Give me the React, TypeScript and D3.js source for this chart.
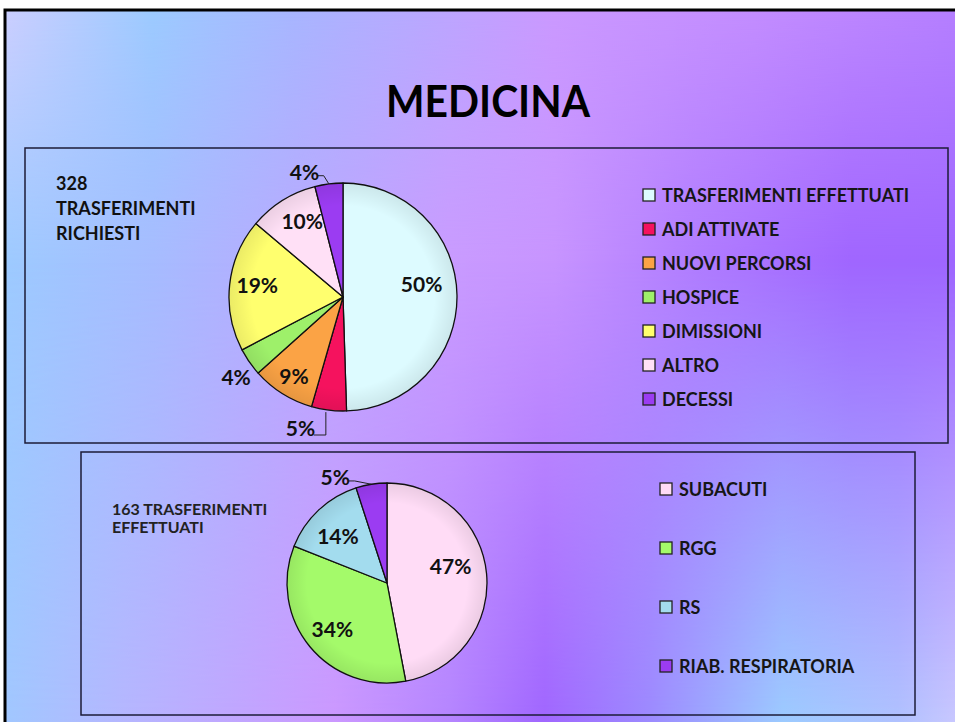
import React from 'react';
import * as d3 from 'd3';

const title = 'MEDICINA';

const topCategories = ['TRASFERIMENTI EFFETTUATI', 'ADI ATTIVATE', 'NUOVI PERCORSI', 'HOSPICE', 'DIMISSIONI', 'ALTRO', 'DECESSI'];
const topValues = [50, 5, 9, 4, 19, 10, 4];
const topColors = ['#ddfbff', '#f5125e', '#fba345', '#9ef06a', '#ffff6e', '#ffe0f6', '#9b3cf2'];
const topNote = ['328', 'TRASFERIMENTI', 'RICHIESTI'];

const bottomCategories = ['SUBACUTI', 'RGG', 'RS', 'RIAB. RESPIRATORIA'];
const bottomValues = [47, 34, 14, 5];
const bottomColors = ['#ffdcf6', '#a4fa6a', '#a3dcee', '#9b3cf2'];
const bottomNote = ['163 TRASFERIMENTI', 'EFFETTUATI'];

// background colour profiles (offset along width, colour) for three rows
const bgTop = [[0, '#cfcfff'], [0.16, '#9ccbff'], [0.31, '#a8b6ff'], [0.47, '#bca6ff'], [0.58, '#cb99ff'], [0.79, '#c48eff'], [1, '#b680ff']];
const bgMid = [[0, '#9dcbff'], [0.16, '#a6bcff'], [0.31, '#b8aaff'], [0.47, '#c99bff'], [0.58, '#c794ff'], [0.73, '#b07cff'], [0.89, '#a066ff'], [1, '#9e66ff']];
const bgBottom = [[0, '#a0c8ff'], [0.13, '#b5b6ff'], [0.35, '#cb98ff'], [0.47, '#b585ff'], [0.57, '#a066ff'], [0.68, '#9c8aff'], [0.82, '#9ccbff'], [0.94, '#b0c2ff'], [1, '#c8c8ff']];

// label placement: radius factor, angular shift (deg), leader type
const topLabelLayout = [
  { r: 0.7, a: -9, leader: '' },
  { r: 1.2, a: 11, leader: 'down' },
  { r: 0.81, a: 0, leader: '' },
  { r: 1.17, a: -2, leader: '' },
  { r: 0.76, a: 2, leader: '' },
  { r: 0.76, a: 4, leader: '' },
  { r: 1.15, a: -10, leader: 'up' },
];
const bottomLabelLayout = [
  { r: 0.66, a: -10, leader: '' },
  { r: 0.71, a: 0, leader: '' },
  { r: 0.68, a: -3, leader: '' },
  { r: 1.18, a: -17, leader: 'up' },
];

const FONT = "Lato, 'Open Sans', sans-serif";

function Pie({ cx, cy, R, values, colors, layout, fontSize }) {
  const pie = d3.pie<number>().sort(null).value((d) => d);
  const arcs = pie(values);
  const arc = d3.arc<any>().innerRadius(0).outerRadius(R);
  return (
    <g transform={`translate(${cx},${cy})`}>
      {arcs.map((a, i) => (
        <path key={i} d={arc(a) as string} fill={colors[i]} stroke="#111" strokeWidth={1.3} strokeLinejoin="round" />
      ))}
      <circle r={R} fill="url(#pieShade)" pointerEvents="none" />
      {arcs.map((a, i) => {
        const L = layout[i];
        const mid = (a.startAngle + a.endAngle) / 2;
        const ang = mid + (L.a * Math.PI) / 180;
        const lx = Math.sin(ang) * R * L.r;
        const ly = -Math.cos(ang) * R * L.r;
        const ax = Math.sin(mid) * R;
        const ay = -Math.cos(mid) * R;
        const label = `${values[i]}%`;
        const w = label.length * fontSize * 0.27;
        let leader = null;
        if (L.leader === 'up') {
          const p = d3.path();
          p.moveTo(lx + w + 2, ly + 4);
          p.lineTo(lx + w + 8, ly + 4);
          p.lineTo(ax, ay);
          leader = <path d={p.toString()} fill="none" stroke="#222" strokeWidth={1} />;
        } else if (L.leader === 'down') {
          const p = d3.path();
          p.moveTo(lx + w + 2, ly + 8);
          p.lineTo(ax - 3, ly + 8);
          p.lineTo(ax - 3, ay + 2);
          leader = <path d={p.toString()} fill="none" stroke="#222" strokeWidth={1} />;
        }
        return (
          <g key={'l' + i}>
            {leader}
            <text x={lx} y={ly} textAnchor="middle" dominantBaseline="central" fontFamily={FONT} fontWeight={700} fontSize={fontSize} fill="#111">
              {label}
            </text>
          </g>
        );
      })}
    </g>
  );
}

function Legend({ x, y, step, items, colors, fontSize, box }) {
  return (
    <g>
      {items.map((t, i) => (
        <g key={i} transform={`translate(${x},${y + i * step})`}>
          <rect x={0} y={-box / 2} width={box} height={box} fill={colors[i]} stroke="#222" strokeWidth={1.3} />
          <text x={box + 7} y={0} dominantBaseline="central" fontFamily={FONT} fontWeight={700} fontSize={fontSize} fill="#161616">
            {t}
          </text>
        </g>
      ))}
    </g>
  );
}

function HGrad({ id, stops }) {
  return (
    <linearGradient id={id} gradientUnits="userSpaceOnUse" x1={0} y1={0} x2={955} y2={0}>
      {stops.map((s, i) => (
        <stop key={i} offset={s[0]} stopColor={s[1]} />
      ))}
    </linearGradient>
  );
}

export default function App() {
  return (
    <div style={{ position: 'absolute', left: 0, top: 0, width: 955, height: 722, overflow: 'hidden' }}>
      <svg width={955} height={722} style={{ display: 'block' }}>
        <defs>
          <HGrad id="bgTop" stops={bgTop} />
          <HGrad id="bgMid" stops={bgMid} />
          <HGrad id="bgBottom" stops={bgBottom} />
          <linearGradient id="mkMid" gradientUnits="userSpaceOnUse" x1={0} y1={0} x2={0} y2={722}>
            <stop offset="0" stopColor="#fff" stopOpacity="0" />
            <stop offset="0.36" stopColor="#fff" stopOpacity="1" />
            <stop offset="1" stopColor="#fff" stopOpacity="1" />
          </linearGradient>
          <linearGradient id="mkBot" gradientUnits="userSpaceOnUse" x1={0} y1={0} x2={0} y2={722}>
            <stop offset="0.36" stopColor="#fff" stopOpacity="0" />
            <stop offset="1" stopColor="#fff" stopOpacity="1" />
          </linearGradient>
          <mask id="maskMid" maskUnits="userSpaceOnUse" x={0} y={0} width={955} height={722}>
            <rect x={0} y={0} width={955} height={722} fill="url(#mkMid)" />
          </mask>
          <mask id="maskBot" maskUnits="userSpaceOnUse" x={0} y={0} width={955} height={722}>
            <rect x={0} y={0} width={955} height={722} fill="url(#mkBot)" />
          </mask>
          <radialGradient id="pieShade">
            <stop offset="0.8" stopColor="#000" stopOpacity="0" />
            <stop offset="1" stopColor="#000" stopOpacity="0.08" />
          </radialGradient>
        </defs>
        <rect x={0} y={0} width={955} height={722} fill="#fff" />
        <rect x={5} y={10} width={980} height={740} fill="url(#bgTop)" />
        <rect x={5} y={10} width={980} height={740} fill="url(#bgMid)" mask="url(#maskMid)" />
        <rect x={5} y={10} width={980} height={740} fill="url(#bgBottom)" mask="url(#maskBot)" />
        <rect x={5} y={10} width={980} height={740} fill="none" stroke="#000" strokeWidth={3} />

        <text x={488} y={100} textAnchor="middle" dominantBaseline="central" fontFamily={FONT} fontWeight={700} fontSize={44} textLength={204} lengthAdjust="spacingAndGlyphs" fill="#000">
          {title}
        </text>

        <rect x={25} y={148} width={923} height={295} fill="none" stroke="#1c1c38" strokeWidth={1.5} />
        <rect x={81} y={452} width={834} height={263} fill="none" stroke="#1c1c38" strokeWidth={1.5} />

        {topNote.map((t, i) => (
          <text key={i} x={56} y={190 + i * 25} fontFamily={FONT} fontWeight={700} fontSize={18} fill="#111">
            {t}
          </text>
        ))}
        {bottomNote.map((t, i) => (
          <text key={i} x={112} y={515 + i * 18} fontFamily={FONT} fontWeight={700} fontSize={16} fill="#222">
            {t}
          </text>
        ))}

        <Pie cx={343} cy={297} R={114} values={topValues} colors={topColors} layout={topLabelLayout} fontSize={21} />
        <Pie cx={387} cy={583} R={100} values={bottomValues} colors={bottomColors} layout={bottomLabelLayout} fontSize={21} />

        <Legend x={643} y={195} step={34} items={topCategories} colors={topColors} fontSize={18} box={12} />
        <Legend x={660} y={489} step={59} items={bottomCategories} colors={bottomColors} fontSize={18} box={12} />
      </svg>
    </div>
  );
}
